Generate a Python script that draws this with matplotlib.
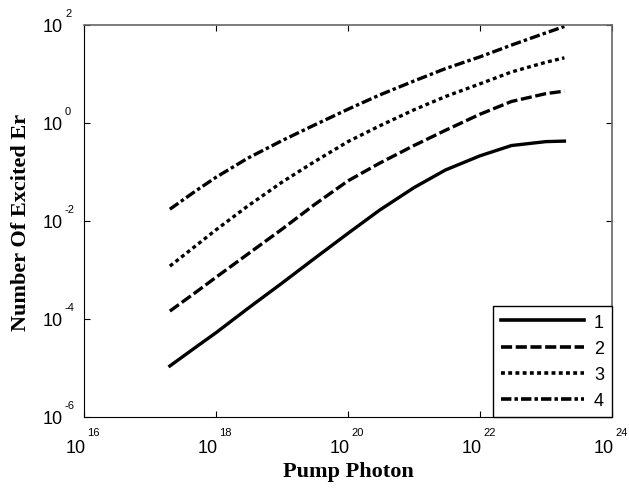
import numpy as np
import matplotlib
matplotlib.use("Agg")
import matplotlib.pyplot as plt

plt.rcParams['font.family'] = ['Liberation Sans', 'DejaVu Sans']
plt.rcParams['lines.scale_dashes'] = False

# pump photon number (x) and excited Er number (y)
pump = [2e17, 5e17, 1e18, 3e18, 1e19, 3e19, 1e20, 3e20, 1e21, 3e21, 1e22, 3e22, 1e23, 1.9e23]

er_1 = [1.10e-5, 2.69e-5, 5.25e-5, 1.62e-4, 5.4e-4, 1.66e-3, 5.6e-3, 1.66e-2,
        4.8e-2, 0.110, 0.214, 0.347, 0.417, 0.427]
er_2 = [1.45e-4, 3.55e-4, 7.1e-4, 2.09e-3, 6.8e-3, 2.09e-2, 6.6e-2, 0.151,
        0.347, 0.71, 1.51, 2.75, 3.98, 4.47]
er_3 = [1.20e-3, 3.16e-3, 6.6e-3, 2.0e-2, 6.2e-2, 0.158, 0.417, 0.871,
        1.86, 3.47, 6.3, 11.0, 17.4, 21.4]
er_4 = [1.74e-2, 4.17e-2, 7.8e-2, 0.19, 0.437, 0.891, 1.91, 3.72,
        7.2, 12.9, 22.4, 38.9, 69.2, 93.3]

labels = ['1', '2', '3', '4']
x_exps = [16, 18, 20, 22, 24]
y_exps = [-6, -4, -2, 0, 2]

fig = plt.figure(figsize=(6.29, 4.89), dpi=100)
ax = fig.add_axes([84/629, 1 - 418/489, 528/629, 392/489])

lw = 2.4
ax.plot(pump, er_1, color='black', lw=lw, linestyle='-', label=labels[0])
ax.plot(pump, er_2, color='black', lw=lw, dashes=(8, 2.6), label=labels[1])
ax.plot(pump, er_3, color='black', lw=lw, dashes=(2.8, 2.4), label=labels[2])
ax.plot(pump, er_4, color='black', lw=lw, dashes=(7.5, 2.2, 2.5, 2.2), label=labels[3])

ax.set_xscale('log')
ax.set_yscale('log')
ax.set_xlim(10.0**x_exps[0], 10.0**x_exps[-1])
ax.set_ylim(10.0**y_exps[0], 10.0**y_exps[-1])
ax.set_xticks([10.0**e for e in x_exps])
ax.set_yticks([10.0**e for e in y_exps])
ax.minorticks_off()
ax.set_xticklabels([])
ax.set_yticklabels([])
ax.tick_params(direction='in', length=4, width=0.8, top=True, right=True)

for s in ['left', 'bottom']:
    ax.spines[s].set_color('black')
for s in ['top', 'right']:
    ax.spines[s].set_color('#666666')
    ax.spines[s].set_linewidth(1.2)

# MATLAB-like "10^n" tick labels
for e in x_exps:
    ax.annotate('10', xy=(10.0**e, 0), xycoords=('data', 'axes fraction'),
                xytext=(1.4, -25.2), textcoords='offset points',
                ha='right', va='baseline', fontsize=13)
    ax.annotate(str(e), xy=(10.0**e, 0), xycoords=('data', 'axes fraction'),
                xytext=(2.2, -13.0), textcoords='offset points',
                ha='left', va='baseline', fontsize=8)
for e in y_exps:
    ax.annotate('10', xy=(0, 10.0**e), xycoords=('axes fraction', 'data'),
                xytext=(-15.1, -4.4), textcoords='offset points',
                ha='right', va='baseline', fontsize=13)
    ax.annotate(str(e), xy=(0, 10.0**e), xycoords=('axes fraction', 'data'),
                xytext=(-13.7, 6.5), textcoords='offset points',
                ha='left', va='baseline', fontsize=8)

ax.set_xlabel('Pump Photon', fontfamily='Liberation Serif', fontweight='bold', fontsize=16)
ax.set_ylabel('Number Of Excited Er', fontfamily='Liberation Serif', fontweight='bold', fontsize=16)
ax.xaxis.set_label_coords(0.5, -0.112)
ax.yaxis.set_label_coords(-0.1, 0.5)

leg = ax.legend(loc='lower right', borderaxespad=0, fontsize=13, handlelength=4.6,
                handletextpad=0.55, labelspacing=0.5, fancybox=False,
                edgecolor='black', framealpha=1, borderpad=0.45)
leg.get_frame().set_linewidth(1.0)
for h in leg.get_lines():
    h.set_linewidth(2.6)

fig.savefig('out.png', dpi=100)
